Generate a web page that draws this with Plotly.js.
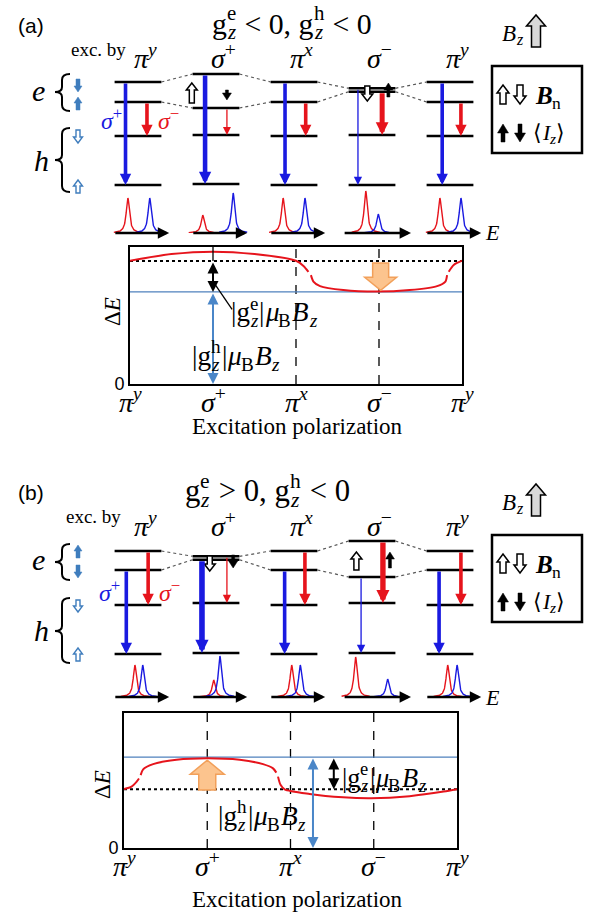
<!DOCTYPE html>
<html><head><meta charset="utf-8">
<script src="https://cdn.plot.ly/plotly-3.0.1.min.js"></script>
<style>body{margin:0;background:#fff}#chart{width:590px;height:914px}</style>
</head><body><div id="chart"></div>
<script>
// ================= DATA =================
const polIdx = [0, 1, 2, 3, 4];
const polTicks = ['<i>π</i><sup><i>y</i></sup>', '<i>σ</i><sup>+</sup>', '<i>π</i><sup><i>x</i></sup>', '<i>σ</i><sup>−</sup>', '<i>π</i><sup><i>y</i></sup>'];

// ---- panel (a): g_e<0, g_h<0 ----
const aETop = [11.8, 12.6, 11.8, 11.17, 11.8];   // upper electron level (schematic energy)
const aEBot = [9.8, 9.2, 9.8, 10.83, 9.8];       // lower electron level
const aHTop = [6.4, 6.5, 6.4, 6.5, 6.4];         // upper hole level
const aHBot = [1.5, 1.6, 1.5, 1.5, 1.5];         // lower hole level
const aIPlus = [1.0, 1.14, 1.0, 0.54, 1.0];      // σ+ (blue) emission intensity
const aIMinus = [1.0, 0.51, 1.0, 1.2, 1.0];      // σ− (red) emission intensity
const aPosPlus = [0.15, 0.22, 0.14, 0.08, 0.14]; // σ+ peak photon energy (relative)
const aPosMinus = [-0.13, -0.17, -0.14, -0.08, -0.13];
const aDEx = [0, 0.5, 1, 1.5, 2, 2.09, 2.15, null, 2.18, 2.21, 2.29, 2.57, 2.97, 3.37, 3.70, 3.80, 3.82, null, 3.84, 3.90, 4.0];
const aDEy = [4.04, 4.26, 4.34, 4.26, 4.04, 3.87, 3.68, null, 3.57, 3.36, 3.21, 3.08, 3.03, 3.08, 3.21, 3.36, 3.57, null, 3.68, 3.90, 4.04];
const aDE0 = 4.03, aHoleZ = 3.02;

// ---- panel (b): g_e>0, g_h<0 ----
const bETop = [11.9, 11.37, 11.9, 12.9, 11.9];
const bEBot = [10.0, 11.03, 10.0, 9.3, 10.0];
const bHTop = [6.5, 6.7, 6.5, 6.7, 6.5];
const bHBot = [1.6, 1.7, 1.6, 1.7, 1.6];
const bIPlus = [1.0, 1.28, 1.0, 0.56, 1.0];
const bIMinus = [1.0, 0.53, 1.0, 1.25, 1.0];
const bPosPlus = [0.06, 0.05, 0.08, 0.20, 0.09];
const bPosMinus = [-0.04, -0.03, -0.03, -0.21, -0.03];
const bDEx = [0, 0.09, 0.15, 0.18, null, 0.20, 0.23, 0.35, 0.63, 1.0, 1.39, 1.67, 1.79, 1.83, null, 1.85, 1.88, 1.93, 2.23, 2.63, 2.97, 3.43, 3.84, 4.0];
const bDEy = [1.93, 2.01, 2.17, 2.28, null, 2.39, 2.58, 2.75, 2.89, 2.94, 2.89, 2.75, 2.61, 2.47, null, 2.34, 2.07, 1.92, 1.77, 1.66, 1.63, 1.70, 1.85, 1.93];
const bDE0 = 1.93, bHoleZ = 2.98;

// ================= STYLE / HELPERS =================
const SERIF = '"Liberation Serif", "Times New Roman", serif';
const SANS = '"Liberation Sans", Arial, sans-serif';
const BLUE = '#1a1ae0', RED = '#e6141c', SBLUE = '#3f7dbd', LBLUE = '#4f81bd';
const traces = [], anns = [], shapes = [];
function dom(a, b) { return [1 - b / 914, 1 - a / 914]; }
function hid(domain, range, anchor) { return {domain, range, anchor, visible: false, fixedrange: true, autorange: false}; }
const nb = s => s.replace(/ /g, '\u00a0');
function txt(x, y, text, size, color, xa, opt) {
  return Object.assign({x, y, xref: 'x', yref: 'y', text, showarrow: false, xanchor: xa || 'center', yanchor: 'middle',
    borderpad: 0, borderwidth: 0, font: {family: SERIF, size, color: color || '#000'}}, opt || {});
}
const mctx = document.createElement('canvas').getContext('2d');
function tw(t, size, it, b) { mctx.font = (it ? 'italic ' : '') + (b ? 'bold ' : '') + size + 'px "Liberation Serif"'; return mctx.measureText(t).width; }
function wrap(t, i, b) { t = nb(t); if (i) t = '<i>' + t + '</i>'; if (b) t = '<b>' + t + '</b>'; return t; }
function mathLabel(pieces, x0, y, S, color, push) {
  let x = x0;
  for (const p of pieces) {
    if (p.t !== undefined) {
      if (push) anns.push(txt(x, y, wrap(p.t, p.i, p.b), S, color, 'left'));
      x += tw(p.t, S, p.i, p.b);
    } else {
      const s = 0.7 * S; let w = 0;
      if (p.sup) { if (push) anns.push(txt(x, y - 0.33 * S, wrap(p.sup, p.supI), s, color, 'left')); w = Math.max(w, tw(p.sup, s, p.supI)); }
      if (p.sub) { if (push) anns.push(txt(x, y + 0.3 * S, wrap(p.sub, p.subI), s, color, 'left')); w = Math.max(w, tw(p.sub, s, p.subI)); }
      x += w + 0.04 * S;
    }
  }
  return x - x0;
}
function fitLabel(pieces, x0, y, width, color) {
  const S = 20 * width / mathLabel(pieces, 0, 0, 20, color, false);
  mathLabel(pieces, x0, y, S, color, true);
}
function blockArrow(o) {
  const kx = o.kx || 1, ky = o.ky || 1;
  const dir = Math.sign(o.y1 - o.y0);
  const yn = o.y1 - dir * o.hl / ky;
  const hs = o.sw / 2 / kx, hh = o.hw / 2 / kx, c = o.cx;
  const path = `M${c - hs},${o.y0} L${c - hs},${yn} L${c - hh},${yn} L${c},${o.y1} L${c + hh},${yn} L${c + hs},${yn} L${c + hs},${o.y0} Z`;
  shapes.push({type: 'path', path, xref: o.xref || 'x', yref: o.yref || 'y', fillcolor: o.fill, line: {color: o.line || o.fill, width: o.lw || 1}, layer: 'above'});
}
function brace(x, y0, y1, ym) {
  const v = x - 8, t = x - 15;
  const path = `M${x},${y0} Q${v},${y0} ${v},${y0 + 6} L${v},${ym - 5} Q${v},${ym} ${t},${ym} Q${v},${ym} ${v},${ym + 5} L${v},${y1 - 6} Q${v},${y1} ${x},${y1}`;
  shapes.push({type: 'path', path, xref: 'x', yref: 'y', line: {color: '#000', width: 2}});
}

// ================= PANEL BUILDER =================
function panel(P) {
  // energy levels
  const lx = [], ly = [];
  polIdx.forEach(i => [P.eTop[i], P.eBot[i], P.hTop[i], P.hBot[i]].forEach(E => { lx.push(i - 0.3, i + 0.3, null); ly.push(E, E, null); }));
  traces.push({type: 'scatter', mode: 'lines', x: lx, y: ly, xaxis: P.xa, yaxis: P.ya, line: {color: '#000', width: 2.4}, hoverinfo: 'skip'});
  // dotted connectors
  const cx = [], cy = [];
  for (let i = 0; i < 4; i++) [P.eTop, P.eBot].forEach(arr => { cx.push(i + 0.3, i + 0.7, null); cy.push(arr[i], arr[i + 1], null); });
  traces.push({type: 'scatter', mode: 'lines', x: cx, y: cy, xaxis: P.xa, yaxis: P.ya, line: {color: '#555', width: 1.2, dash: 'dot'}, hoverinfo: 'skip'});
  // transitions
  const xr = P.xa, yr = P.ya;
  function arr(x, from, to, col, I) {
    const w = Math.max(1.3, 3.6 * Math.pow(I, 1.8));
    const Hd = 4 + 6 * I;
    anns.push({x, y: to, ax: x, ay: from, xref: xr, yref: yr, axref: xr, ayref: yr, text: '', showarrow: true,
      arrowhead: 2, arrowsize: Hd / (4.4 * w), arrowwidth: w, arrowcolor: col, standoff: 0});
  }
  polIdx.forEach(i => {
    const ePlus = P.plusTop ? P.eTop[i] : P.eBot[i];
    const eMinus = P.plusTop ? P.eBot[i] : P.eTop[i];
    arr(i + P.offP[i], ePlus, P.hBot[i], BLUE, P.iPlus[i]);
    arr(i + P.offM[i], eMinus, P.hTop[i], RED, P.iMinus[i]);
  });
  // spectra
  const sx = P.sxa, sy = P.sya;
  polIdx.forEach(i => {
    [[P.posMinus[i], P.iMinus[i], RED], [P.posPlus[i], P.iPlus[i], BLUE]].forEach(([p0, I, col]) => {
      const xs = [], ys = [], g = 0.025;
      for (let k = -50; k <= 50; k++) { const d = k * 0.0036; xs.push(i + p0 + d); ys.push(I * g * g / (d * d + g * g)); }
      traces.push({type: 'scatter', mode: 'lines', x: xs, y: ys, xaxis: sx, yaxis: sy, line: {color: col, width: 1.4}, hoverinfo: 'skip'});
    });
    const lo = i === 3 ? -0.37 : -0.31, hi = i === 3 ? 0.5 : 0.40;
    anns.push({x: i + hi, y: 0, ax: i + lo, ay: 0, xref: sx, yref: sy, axref: sx, ayref: sy, text: '', showarrow: true,
      arrowhead: 2, arrowsize: 0.95, arrowwidth: 2.4, arrowcolor: '#000', standoff: 0});
  });
  // ΔE plot
  const dx = P.dxa, dy = P.dya;
  traces.push({type: 'scatter', mode: 'lines', x: P.dex, y: P.dey, xaxis: dx, yaxis: dy, connectgaps: false,
    line: {color: RED, width: 2, shape: 'spline', smoothing: 0.7}, hoverinfo: 'skip'});
  shapes.push({type: 'line', xref: dx, yref: dy, x0: 0, x1: 4, y0: P.de0, y1: P.de0, line: {color: '#000', width: 2, dash: 'dot'}, layer: 'below'});
  shapes.push({type: 'line', xref: dx, yref: dy, x0: 0, x1: 4, y0: P.hz, y1: P.hz, line: {color: LBLUE, width: 1.3}, layer: 'below'});
  P.vdash.forEach(v => shapes.push({type: 'line', xref: dx, yref: dy + ' domain', x0: v, x1: v, y0: 0, y1: 1, line: {color: '#000', width: 1.3, dash: 'dash'}, layer: 'below'}));
  // polarization tick labels (placed on the ΔE x scale)
  polIdx.forEach(i => anns.push(Object.assign(txt(i, P.ticky, polTicks[i], 28), {xref: dx})));
}

// ================= BUILD (a) =================
panel({xa: 'x2', ya: 'y2', sxa: 'x4', sya: 'y4', dxa: 'x6', dya: 'y6',
  eTop: aETop, eBot: aEBot, hTop: aHTop, hBot: aHBot, iPlus: aIPlus, iMinus: aIMinus,
  posPlus: aPosPlus, posMinus: aPosMinus, plusTop: true,
  offP: [-0.16, -0.14, -0.115, -0.18, -0.10], offM: [0.115, 0.14, 0.15, 0.13, 0.14],
  dex: aDEx, dey: aDEy, de0: aDE0, hz: aHoleZ, vdash: [2, 3], ticky: 400});
// ================= BUILD (b) =================
panel({xa: 'x3', ya: 'y3', sxa: 'x5', sya: 'y5', dxa: 'x7', dya: 'y7',
  eTop: bETop, eBot: bEBot, hTop: bHTop, hBot: bHBot, iPlus: bIPlus, iMinus: bIMinus,
  posPlus: bPosPlus, posMinus: bPosMinus, plusTop: false,
  offP: [-0.15, -0.18, -0.12, -0.14, -0.14], offM: [0.13, 0.14, 0.14, 0.14, 0.14],
  dex: bDEx, dey: bDEy, de0: bDE0, hz: bHoleZ, vdash: [1, 2, 3], ticky: 864});

// ---- spin arrows in columns (B_n hollow, <I_z> filled) ----
function hollow(xr, yr, cx, y0, y1) { blockArrow({xref: xr, yref: yr, kx: 78, ky: 10, cx, y0, y1, sw: 5, hw: 11, hl: 7, fill: '#fff', line: '#000', lw: 1.5}); }
function solid(xr, yr, cx, y0, y1) { blockArrow({xref: xr, yref: yr, kx: 78, ky: 10, cx, y0, y1, sw: 3, hw: 9, hl: 7, fill: '#000', line: '#000', lw: 0.5}); }
hollow('x2', 'y2', 1 - 0.31, 9.7, 11.7); solid('x2', 'y2', 1 + 0.14, 11.0, 10.0);
hollow('x2', 'y2', 3 - 0.06, 11.4, 9.9); solid('x2', 'y2', 3 + 0.21, 10.3, 11.7);
hollow('x3', 'y3', 1 - 0.08, 11.4, 9.9); solid('x3', 'y3', 1 + 0.22, 11.5, 10.2);
hollow('x3', 'y3', 3 - 0.20, 10.0, 11.8); solid('x3', 'y3', 3 + 0.23, 10.2, 11.8);

// ---- ΔE annotations ----
function dbl(xr, yr, x, y0, y1, col) {
  anns.push({x, y: y1, ax: x, ay: y0, xref: xr, yref: yr, axref: xr, ayref: yr, text: '', showarrow: true, arrowside: 'end+start',
    arrowhead: 2, startarrowhead: 2, arrowsize: 1.1, startarrowsize: 1.1, arrowwidth: 2, arrowcolor: col, standoff: 0, startstandoff: 0});
}
// (a)
shapes.push({type: 'line', xref: 'x6', yref: 'y6', x0: 1, x1: 1, y0: aDE0, y1: 4.49, line: {color: '#000', width: 1.3}});
dbl('x6', 'y6', 1, aDE0, aHoleZ, '#000');
dbl('x6', 'y6', 1, aHoleZ, 0, '#4a86c8');
shapes.push({type: 'line', xref: 'x6', yref: 'y6', x0: 1.01, y0: 3.32, x1: 1.23, y1: 2.45, line: {color: '#000', width: 1.3}});
blockArrow({xref: 'x6', yref: 'y6', kx: 83, ky: 30.5, cx: 3.02, y0: 3.97, y1: 3.07, sw: 16, hw: 32, hl: 13, fill: '#fcc48e', line: '#f2a05a', lw: 1.5});
// (b)
dbl('x7', 'y7', 2.52, bHoleZ, bDE0, '#000');
dbl('x7', 'y7', 2.27, bHoleZ, 0, '#4a86c8');
blockArrow({xref: 'x7', yref: 'y7', kx: 83.25, ky: 30.5, cx: 1.0, y0: 1.9, y1: 2.88, sw: 17, hw: 34, hl: 14, fill: '#fcc48e', line: '#f2a05a', lw: 1.5});

const gE = [{t: '|g'}, {sup: 'e', sub: 'z', subI: true}, {t: '|'}, {t: 'μ', i: true}, {sub: 'B'}, {t: 'B', i: true}, {sub: 'z', subI: true}];
const gH = [{t: '|g'}, {sup: 'h', sub: 'z', subI: true}, {t: '|'}, {t: 'μ', i: true}, {sub: 'B'}, {t: 'B', i: true}, {sub: 'z', subI: true}];
fitLabel(gE, 231, 312, 86, '#000');
fitLabel(gH, 192, 356, 88, '#000');
fitLabel(gE, 342, 778, 84, '#000');
fitLabel(gH, 218, 816, 88, '#000');

// ---- per-panel decorations ----
function deco(D) {
  const o = D.oy;
  anns.push(txt(31, D.lab, D.name, 21, '#000', 'center', {font: {family: SANS, size: 21, color: '#000'}}));
  fitLabel([{t: 'g'}, {sup: 'e', sub: 'z', subI: true}, {t: D.rel1}, {sup: 'h', sub: 'z', subI: true}, {t: ' < 0'}], D.tx, D.ty, D.tw, '#000');
  anns.push(txt(D.excx, D.excy, 'exc. by', 19));
  polIdx.forEach(i => anns.push(Object.assign(txt(0, D.coly, polTicks[i], 28), {x: i + 0.09, xref: D.xa})));
  // left labels
  anns.push(txt(38, D.ey, '<i>e</i>', 30));
  anns.push(txt(41, D.hy, '<i>h</i>', 30));
  brace(70, D.eb[0], D.eb[1], D.eb[2]);
  brace(70, D.hb[0], D.hb[1], D.hb[2]);
  D.earr.forEach(([y0, y1]) => blockArrow({cx: 78, y0, y1, sw: 4, hw: 8, hl: 6, fill: SBLUE, line: SBLUE, lw: 0.5}));
  D.harr.forEach(([y0, y1]) => blockArrow({cx: 78, y0, y1, sw: 4, hw: 9, hl: 6, fill: '#fff', line: SBLUE, lw: 1.4}));
  anns.push(txt(D.sp[0], D.sp[2], '<i>σ</i><sup>+</sup>', 24, BLUE));
  anns.push(txt(D.sp[1], D.sp[2], '<i>σ</i><sup>−</sup>', 24, RED));
  anns.push(txt(492, D.Ey, '<i>E</i>', 22));
  // B_z
  mathLabel([{t: 'B', i: true}, {sub: 'z', subI: true}], 502, 33 + o, 23, '#000', true);
  blockArrow({cx: 536, y0: 47 + o, y1: 15 + o, sw: 9, hw: 19, hl: 11, fill: '#d9d9d9', line: '#000', lw: 1.5});
  // legend box
  shapes.push({type: 'rect', xref: 'x', yref: 'y', x0: 492, x1: 582, y0: 66 + o, y1: 153 + o, line: {color: '#000', width: 2.5}, fillcolor: '#fff', layer: 'below'});
  blockArrow({cx: 503, y0: 104 + o, y1: 85 + o, sw: 6, hw: 12, hl: 8, fill: '#fff', line: '#000', lw: 1.5});
  blockArrow({cx: 520, y0: 85 + o, y1: 104 + o, sw: 6, hw: 12, hl: 8, fill: '#fff', line: '#000', lw: 1.5});
  mathLabel([{t: 'B', i: true, b: true}, {sub: 'n'}], 535, 95 + o, 25, '#000', true);
  blockArrow({cx: 503, y0: 142 + o, y1: 124 + o, sw: 4, hw: 11, hl: 9, fill: '#000', line: '#000', lw: 0.5});
  blockArrow({cx: 520, y0: 124 + o, y1: 142 + o, sw: 4, hw: 11, hl: 9, fill: '#000', line: '#000', lw: 0.5});
  mathLabel([{t: '⟨'}, {t: 'I', i: true}, {sub: 'z', subI: true}, {t: '⟩'}], 533, 132 + o, 22, '#000', true);
  // ΔE plot labels
  anns.push(txt(D.dEx, D.dEy, 'Δ<i>E</i>', 23, '#000', 'center', {textangle: -90}));
  anns.push(txt(297, D.expy, 'Excitation polarization', 23));
}
deco({name: '(a)', lab: 25, oy: 0, tx: 212, ty: 23, tw: 160, rel1: ' < 0, g', excx: 98, excy: 49, coly: 56, xa: 'x2',
  ey: 90, hy: 160, eb: [74, 111, 92], hb: [128, 192, 160], earr: [[79, 92], [110, 97]], harr: [[130, 143], [193, 180]],
  sp: [111, 168, 119], Ey: 232, dEx: 112, dEy: 312, expy: 426});
deco({name: '(b)', lab: 492, oy: 469, tx: 185, ty: 491, tw: 165, rel1: ' > 0, g', excx: 93, excy: 516, coly: 524, xa: 'x3',
  ey: 559, hy: 630, eb: [544, 580, 562], hb: [598, 663, 631], earr: [[558, 545], [565, 578]], harr: [[600, 612], [661, 648]],
  sp: [109, 169, 591], Ey: 697, dEx: 102, dEy: 785, expy: 899});

// ================= LAYOUT =================
const xd = [60 / 590, 528 / 590];
function dEaxes(xdom, ydom, top, anchorY, anchorX) {
  return [
    {domain: xdom, range: [0, 4], anchor: anchorY, showline: true, mirror: true, linecolor: '#000', linewidth: 2,
      tickvals: polIdx, showticklabels: false, ticks: '', showgrid: false, zeroline: false, fixedrange: true},
    {domain: ydom, range: [0, top], anchor: anchorX, showline: true, mirror: true, linecolor: '#000', linewidth: 2,
      tickvals: [0], ticktext: ['0'], tickfont: {family: SANS, size: 18, color: '#000'}, ticks: '', showgrid: false, zeroline: false, fixedrange: true}
  ];
}
const [x6, y6] = dEaxes([130 / 590, 462 / 590], dom(247, 384), 137 / 30.5, 'y6', 'x6');
const [x7, y7] = dEaxes([124 / 590, 457 / 590], dom(713, 848), 135 / 30.5, 'y7', 'x7');
const layout = {
  width: 590, height: 914, margin: {l: 0, r: 0, t: 0, b: 0}, paper_bgcolor: '#fff', plot_bgcolor: 'rgba(0,0,0,0)', showlegend: false,
  xaxis: hid([0, 1], [0, 590], 'y'), yaxis: hid([0, 1], [914, 0], 'x'),
  xaxis2: hid(xd, [-1, 5], 'y2'), yaxis2: hid(dom(60, 200), [0, 14], 'x2'),
  xaxis3: hid(xd, [-1, 5], 'y3'), yaxis3: hid(dom(530, 670), [0, 14], 'x3'),
  xaxis4: hid(xd, [-1, 5], 'y4'), yaxis4: hid(dom(185, 233), [0, 48 / 35], 'x4'),
  xaxis5: hid(xd, [-1, 5], 'y5'), yaxis5: hid(dom(650, 697), [0, 47 / 32], 'x5'),
  xaxis6: x6, yaxis6: y6, xaxis7: x7, yaxis7: y7,
  annotations: anns, shapes: shapes
};
// invisible anchor trace for canvas axes
traces.push({type: 'scatter', mode: 'markers', x: [0], y: [0], xaxis: 'x', yaxis: 'y', marker: {opacity: 0}, hoverinfo: 'skip'});
Plotly.newPlot('chart', traces, layout, {staticPlot: true, displayModeBar: false});
</script></body></html>
